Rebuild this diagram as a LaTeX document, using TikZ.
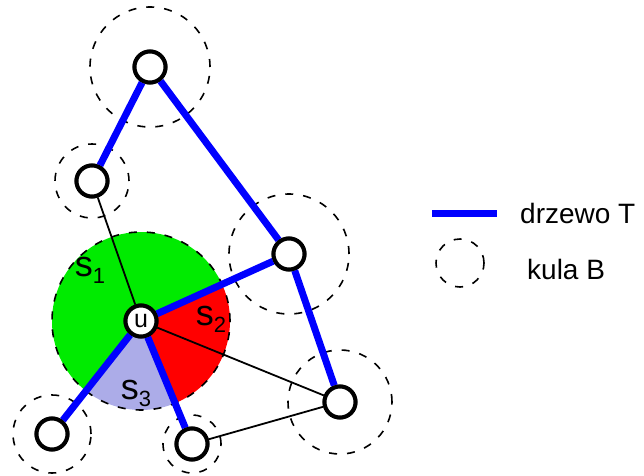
\documentclass[tikz,border=0pt]{standalone}
\usepackage{fontspec}
\setmainfont{Liberation Sans}
\usepackage{xcolor}
\usepackage{tikz}
\usetikzlibrary{positioning}

\definecolor{ballgreen}{RGB}{0,235,0}
\definecolor{ballred}{RGB}{255,0,0}
\definecolor{balllav}{RGB}{172,172,232}
\definecolor{treeblue}{RGB}{0,0,255}

\newcommand{\seclab}[1]{s\raisebox{-7pt}{\fontsize{22}{22}\selectfont #1}}

\begin{document}
\begin{tikzpicture}[x=1pt, y=1pt,
    vert/.style={draw, circle, fill=white, line width=4pt, minimum size=31pt, inner sep=0pt, font=\fontsize{25}{25}\selectfont},
    tree/.style={draw=treeblue, line width=7pt},
    thin/.style={draw=black, line width=1.8pt},
    ball/.style={draw=black, line width=1.6pt, dash pattern=on 8pt off 10pt},
    lab/.style={font=\fontsize{28}{28}\selectfont, inner sep=0pt},
    seclabel/.style={font=\fontsize{36}{36}\selectfont, inner sep=0pt},
]
\useasboundingbox (0,0) rectangle (644,475);

% vertices
\coordinate (uc) at (141,154);
\node[vert] (a) at (150,408) {};
\node[vert] (b) at (92,294) {};
\node[vert] (c) at (289,221) {};
\node[vert] (d) at (340,73) {};
\node[vert] (e) at (52,41) {};
\node[vert] (f) at (192,31) {};

% balls
\draw[ball] (a) circle (60);
\draw[ball] (b) circle (37);
\draw[ball] (c) circle (60);
\draw[ball] (d) circle (52);
\draw[ball] (e) circle (39);
\draw[ball] (f) circle (29);

% sectors of the ball around u
\fill[ballgreen] (uc) -- +(24.4:89) arc[start angle=24.4, end angle=231.8, radius=89] -- cycle;
\fill[ballred] (uc) -- +(-67.5:89) arc[start angle=-67.5, end angle=24.4, radius=89] -- cycle;
\fill[balllav] (uc) -- +(231.8:89) arc[start angle=231.8, end angle=292.5, radius=89] -- cycle;
\draw[ball] (uc) circle (89);

\node[vert] (u) at (uc) {u};

% edges
\draw[thin] (b) -- (u);
\draw[thin] (u) -- (d);
\draw[thin] (f) -- (d);
\draw[tree] (a) -- (b);
\draw[tree] (a) -- (c);
\draw[tree] (c) -- (d);
\draw[tree] (u) -- (c);
\draw[tree] (u) -- (e);
\draw[tree] (u) -- (f);

% redraw vertices on top
\foreach \v in {a,b,c,d,e,f}
  \node[vert] at (\v) {};
\node[vert] at (uc) {u};

% sector labels
\node[seclabel] (s1) at (90,205) {\seclab{1}};
\node[seclabel] (s2) at (211,156) {\seclab{2}};
\node[seclabel] (s3) at (136,82) {\seclab{3}};

% legend
\coordinate (t1) at (432,262);
\coordinate (t2) at (497,262);
\draw[tree, line cap=butt] (t1) -- (t2);
\node[lab, anchor=west] (treetxt) at (520,262) {drzewo T};
\coordinate (bl) at (460,212);
\draw[ball] (bl) circle (24);
\node[lab, anchor=west] (balltxt) at (527,206) {kula B};
\end{tikzpicture}
\end{document}
